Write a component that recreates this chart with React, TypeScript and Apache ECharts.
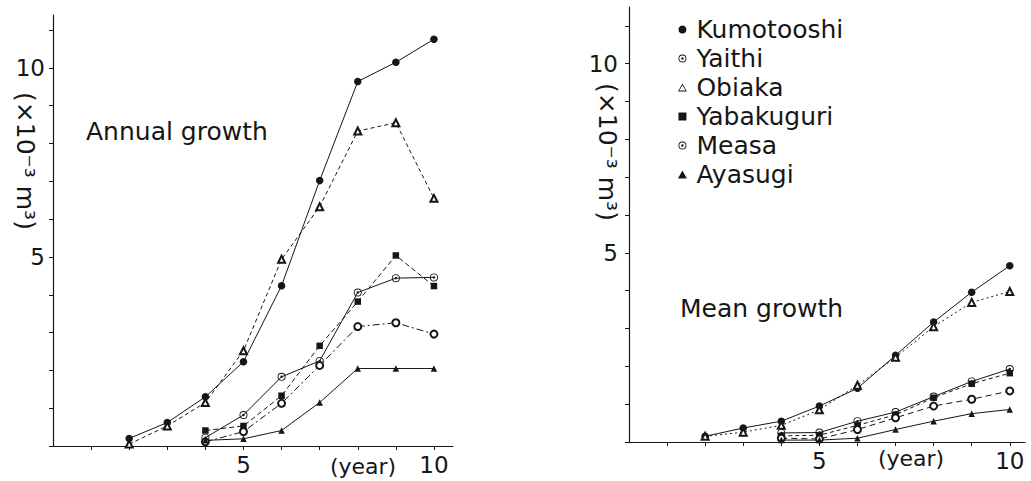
import React, { useEffect, useRef } from "react";
import * as echarts from "echarts";

// ---- data ----
const years = [2, 3, 4, 5, 6, 7, 8, 9, 10];
const seriesNames = ["Kumotooshi", "Yaithi", "Obiaka", "Yabakuguri", "Measa", "Ayasugi"];

// Annual growth (×10⁻³ m³)
const annualKumotooshi = [0.2, 0.62, 1.3, 2.23, 4.24, 7.02, 9.64, 10.15, 10.76];
const annualYaithi = [null, null, 0.22, 0.82, 1.83, 2.25, 4.06, 4.44, 4.46];
const annualObiaka = [0.05, 0.53, 1.15, 2.52, 4.94, 6.33, 8.33, 8.55, 6.55];
const annualYabakuguri = [null, null, 0.41, 0.53, 1.33, 2.65, 3.82, 5.04, 4.23];
const annualMeasa = [null, null, 0.11, 0.38, 1.13, 2.13, 3.16, 3.26, 2.96];
const annualAyasugi = [null, null, 0.15, 0.19, 0.41, 1.15, 2.05, 2.05, 2.05];

// Mean growth (×10⁻³ m³)
const meanKumotooshi = [0.15, 0.37, 0.55, 0.95, 1.42, 2.29, 3.17, 3.96, 4.66];
const meanYaithi = [null, null, 0.24, 0.25, 0.55, 0.79, 1.2, 1.6, 1.93];
const meanObiaka = [0.15, 0.26, 0.44, 0.85, 1.5, 2.24, 3.05, 3.69, 3.98];
const meanYabakuguri = [null, null, 0.16, 0.18, 0.44, 0.72, 1.17, 1.54, 1.82];
const meanMeasa = [null, null, 0.1, 0.08, 0.33, 0.64, 0.95, 1.13, 1.35];
const meanAyasugi = [null, null, 0.05, 0.05, 0.1, 0.33, 0.55, 0.75, 0.86];

const xTickValues = [1, 2, 3, 4, 5, 6, 7, 8, 9, 10];
const xLabelValues = [5, 10];
const yTickValues = [0, 1, 2, 3, 4, 5, 6, 7, 8, 9, 10, 11];
const yLabelValues = [5, 10];

const annualTitle = "Annual growth";
const meanTitle = "Mean growth";
const yTitle = "(×10⁻³ m³)";
const xTitle = "(year)";

// ---- styling ----
const INK = "#161616";
const FONT = "DejaVu Sans";
const DOT_CIRCLE =
  "path://M0,-10A10,10,0,1,1,0,10A10,10,0,1,1,0,-10ZM0,-7.8A7.8,7.8,0,1,0,0,7.8A7.8,7.8,0,1,0,0,-7.8ZM0,-3A3,3,0,1,1,0,3A3,3,0,1,1,0,-3Z";
const OPEN_TRIANGLE = "path://M0,-10L10,8L-10,8ZM0,-6L-7,6L7,6Z";
const FILLED_TRIANGLE = "path://M0,-10L10,8L-10,8Z";
const FILLED_SQUARE = "path://M-10,-10L10,-10L10,10L-10,10Z";

const symbolOf: Record<string, { symbol: string; size: number; empty: boolean; legend: string }> = {
  Kumotooshi: { symbol: "circle", size: 7.5, empty: false, legend: "circle" },
  Yaithi: { symbol: DOT_CIRCLE, size: 8, empty: false, legend: DOT_CIRCLE },
  Obiaka: { symbol: "emptyTriangle", size: 7, empty: true, legend: OPEN_TRIANGLE },
  Yabakuguri: { symbol: "rect", size: 6.5, empty: false, legend: FILLED_SQUARE },
  Measa: { symbol: "emptyCircle", size: 7, empty: true, legend: DOT_CIRCLE },
  Ayasugi: { symbol: "triangle", size: 6.5, empty: false, legend: FILLED_TRIANGLE },
};

const annualLine: Record<string, any> = {
  Kumotooshi: "solid",
  Yaithi: "solid",
  Obiaka: [4, 3],
  Yabakuguri: [5, 3],
  Measa: [7, 3, 2, 3],
  Ayasugi: "solid",
};
const meanLine: Record<string, any> = {
  Kumotooshi: "solid",
  Yaithi: "solid",
  Obiaka: [2, 3],
  Yabakuguri: [4, 3],
  Measa: [6, 4],
  Ayasugi: "solid",
};

const annualData: Record<string, (number | null)[]> = {
  Kumotooshi: annualKumotooshi,
  Yaithi: annualYaithi,
  Obiaka: annualObiaka,
  Yabakuguri: annualYabakuguri,
  Measa: annualMeasa,
  Ayasugi: annualAyasugi,
};
const meanData: Record<string, (number | null)[]> = {
  Kumotooshi: meanKumotooshi,
  Yaithi: meanYaithi,
  Obiaka: meanObiaka,
  Yabakuguri: meanYabakuguri,
  Measa: meanMeasa,
  Ayasugi: meanAyasugi,
};

function pairs(values: (number | null)[]) {
  const out: number[][] = [];
  values.forEach((v, i) => {
    if (v != null) out.push([years[i], v]);
  });
  return out;
}

function makeSeries(name: string, values: (number | null)[], lineType: any, axisIndex: number) {
  const s = symbolOf[name];
  return {
    type: "line",
    name,
    xAxisIndex: axisIndex,
    yAxisIndex: axisIndex,
    data: pairs(values),
    symbol: s.symbol,
    symbolSize: s.size,
    showAllSymbol: true,
    lineStyle: { color: INK, width: 1, type: lineType },
    itemStyle: s.empty
      ? { color: INK, borderColor: INK, borderWidth: 0.9 }
      : { color: INK, borderWidth: 0 },
    emphasis: { disabled: true },
    z: 2,
  };
}

function xAxis(gridIndex: number, max: number) {
  return {
    type: "value",
    gridIndex,
    min: 0,
    max,
    interval: 1,
    axisLine: { show: true, onZero: false, lineStyle: { color: INK, width: 1.2 } },
    axisTick: { show: true, length: 4, customValues: xTickValues, lineStyle: { color: INK } },
    axisLabel: {
      show: true,
      customValues: xLabelValues,
      margin: 7,
      fontSize: 23,
      fontFamily: FONT,
      color: INK,
    },
    splitLine: { show: false },
  };
}

function yAxis(gridIndex: number, max: number, margin: number) {
  return {
    type: "value",
    gridIndex,
    min: 0,
    max,
    interval: 1,
    axisLine: { show: true, onZero: false, lineStyle: { color: INK, width: 1.2 } },
    axisTick: { show: true, length: 4, customValues: yTickValues, lineStyle: { color: INK } },
    axisLabel: {
      show: true,
      customValues: yLabelValues,
      margin,
      fontSize: 23,
      fontFamily: FONT,
      color: INK,
    },
    splitLine: { show: false },
  };
}

function text(x: number, y: number, t: string, size: number, align: string, rotation = 0) {
  return {
    type: "text",
    x,
    y,
    rotation,
    silent: true,
    style: {
      text: t,
      fontSize: size,
      fontFamily: FONT,
      fill: INK,
      align,
      verticalAlign: "middle",
    },
  };
}

export default function App() {
  const ref = useRef<HTMLDivElement>(null);

  useEffect(() => {
    if (!ref.current) return;
    const chart = echarts.init(ref.current, undefined, { renderer: "svg" });
    const series: any[] = [];
    seriesNames.forEach((n) => series.push(makeSeries(n, annualData[n], annualLine[n], 0)));
    seriesNames.forEach((n) => series.push(makeSeries(n, meanData[n], meanLine[n], 1)));

    chart.setOption({
      animation: false,
      backgroundColor: "#ffffff",
      textStyle: { fontFamily: FONT },
      grid: [
        { left: 53, top: 15, width: 400, height: 431, outerBoundsMode: "none", containLabel: false },
        { left: 629, top: 7, width: 396, height: 435, outerBoundsMode: "none", containLabel: false },
      ],
      xAxis: [xAxis(0, 10.5), xAxis(1, 10.4)],
      yAxis: [yAxis(0, 11.4, 8), yAxis(1, 11.5, 11)],
      legend: {
        show: true,
        orient: "vertical",
        left: 673,
        top: 12,
        itemWidth: 18,
        itemHeight: 8,
        itemGap: 4,
        selectedMode: false,
        symbolKeepAspect: true,
        itemStyle: { color: INK, borderWidth: 0 },
        textStyle: { fontSize: 25, fontFamily: FONT, color: INK },
        data: seriesNames.map((n) => ({ name: n, icon: symbolOf[n].legend })),
      },
      graphic: [
        text(86, 131, annualTitle, 25, "left"),
        text(680, 308, meanTitle, 25, "left"),
        text(363, 466, xTitle, 22, "center"),
        text(911, 458, xTitle, 22, "center"),
        text(25, 161, yTitle, 25, "center", -Math.PI / 2),
        text(607, 152, yTitle, 25, "center", -Math.PI / 2),
      ],
      series,
    });
    return () => chart.dispose();
  }, []);

  return (
    <div
      ref={ref}
      style={{ position: "fixed", left: 0, top: 0, width: 1031, height: 481, background: "#fff" }}
    />
  );
}
